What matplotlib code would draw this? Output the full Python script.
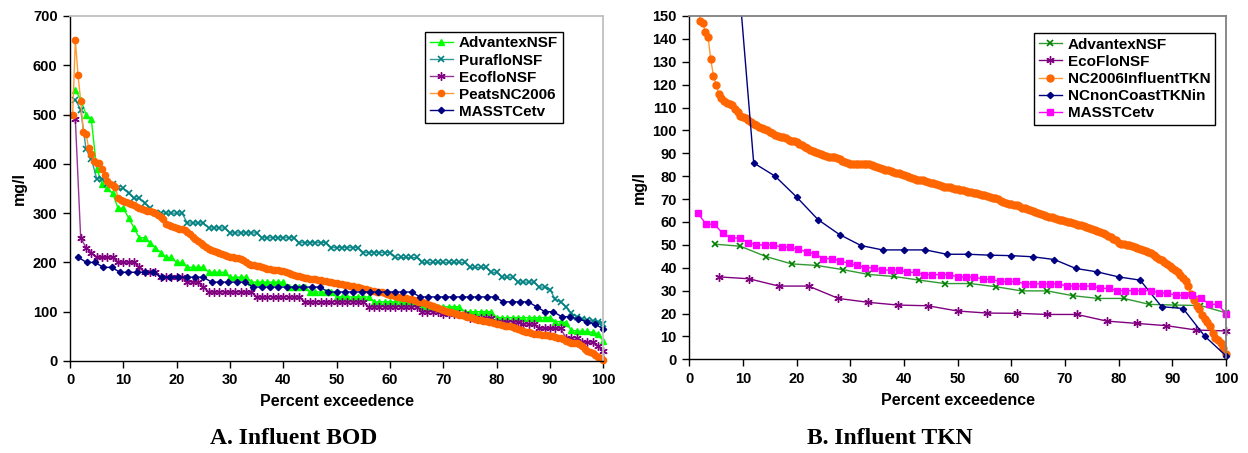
import matplotlib
matplotlib.use('Agg')
import matplotlib.pyplot as plt
import matplotlib.patches as mpatches
import numpy as np

plt.rcParams['font.family'] = ['Liberation Sans', 'DejaVu Sans']
plt.rcParams['font.weight'] = 'bold'

# ---- A. Influent BOD (mg/l vs percent exceedence) ----
advantex_bod = [550, 530, 500, 490, 390, 360, 350, 340, 310, 310,
                290, 270, 250, 250, 240, 230, 220, 210, 210, 200,
                200, 190, 190, 190, 190, 180, 180, 180, 180, 170,
                170, 170, 170, 160, 160, 160, 160, 160, 160, 160,
                150, 150, 150, 150, 140, 140, 140, 140, 140, 130,
                130, 130, 130, 130, 130, 130, 120, 120, 120, 120,
                120, 120, 120, 120, 120, 110, 110, 110, 110, 110,
                110, 110, 110, 100, 100, 100, 100, 100, 100, 88,
                88, 88, 88, 88, 88, 88, 88, 88, 88, 88,
                80, 80, 78, 62, 61, 60, 60, 58, 55, 40]

puraflo_bod = [530, 510, 430, 410, 370, 370, 360, 360, 350, 350,
               340, 330, 330, 320, 310, 300, 300, 300, 300, 300,
               300, 280, 280, 280, 280, 270, 270, 270, 270, 260,
               260, 260, 260, 260, 260, 250, 250, 250, 250, 250,
               250, 250, 240, 240, 240, 240, 240, 240, 230, 230,
               230, 230, 230, 230, 220, 220, 220, 220, 220, 220,
               210, 210, 210, 210, 210, 200, 200, 200, 200, 200,
               200, 200, 200, 200, 190, 190, 190, 190, 180, 180,
               170, 170, 170, 160, 160, 160, 160, 150, 150, 145,
               125, 120, 110, 97, 90, 85, 83, 82, 80, 75]

ecoflo_bod = [490, 250, 230, 220, 210, 210, 210, 210, 200, 200,
              200, 200, 190, 180, 180, 180, 170, 170, 170, 170,
              170, 160, 160, 160, 150, 140, 140, 140, 140, 140,
              140, 140, 140, 140, 130, 130, 130, 130, 130, 130,
              130, 130, 130, 120, 120, 120, 120, 120, 120, 120,
              120, 120, 120, 120, 120, 110, 110, 110, 110, 110,
              110, 110, 110, 110, 110, 100, 100, 100, 100, 95,
              95, 95, 95, 95, 88, 88, 88, 88, 88, 80,
              80, 80, 80, 80, 75, 75, 75, 66, 66, 66,
              66, 66, 47, 47, 47, 38, 38, 38, 30, 20]

peats_bod = [500, 651, 580, 528, 465, 461, 432, 420, 406, 401,
             401, 390, 378, 365, 360, 357, 354, 331, 327, 324,
             322, 320, 318, 316, 313, 311, 309, 307, 305, 304,
             302, 300, 297, 293, 288, 278, 275, 273, 272, 270,
             268, 267, 265, 262, 257, 252, 248, 243, 239, 236,
             232, 228, 225, 223, 221, 219, 217, 215, 213, 212,
             210, 209, 208, 206, 204, 200, 197, 195, 194, 193,
             192, 190, 189, 187, 186, 185, 185, 184, 183, 182,
             180, 179, 177, 175, 173, 172, 170, 169, 168, 167,
             166, 166, 165, 164, 163, 162, 161, 160, 159, 158,
             157, 156, 155, 154, 153, 152, 151, 150, 148, 147,
             146, 145, 143, 142, 141, 140, 139, 137, 136, 134,
             133, 132, 130, 129, 128, 127, 126, 125, 124, 122,
             120, 119, 118, 116, 114, 112, 110, 108, 106, 104,
             102, 100, 99, 97, 96, 94, 93, 91, 90, 89,
             87, 86, 84, 83, 82, 81, 80, 79, 77, 76,
             75, 74, 72, 71, 70, 68, 66, 64, 62, 60,
             59, 58, 56, 55, 54, 54, 53, 53, 52, 51,
             50, 49, 47, 46, 45, 40, 38, 37, 36, 36,
             35, 30, 24, 20, 18, 16, 12, 9, 6, 2]

masst_bod = [210, 200, 200, 190, 190, 180, 180, 180, 180, 180,
             170, 170, 170, 170, 170, 170, 160, 160, 160, 160,
             160, 150, 150, 150, 150, 150, 150, 150, 150, 150,
             140, 140, 140, 140, 140, 140, 140, 140, 140, 140,
             140, 130, 130, 130, 130, 130, 130, 130, 130, 130,
             130, 120, 120, 120, 120, 110, 100, 100, 90, 90,
             85, 80, 75, 65]

# ---- B. Influent TKN ----
advantex_tkn = [50.3, 49.4, 44.9, 41.7, 41.0, 39.2, 37.1, 36.2, 34.6, 33.1,
                33.1, 31.7, 29.9, 29.9, 27.8, 26.6, 26.6, 24.0, 23.7, 23.5, 20.3]

ecoflo_tkn = [36.0, 35.2, 32.0, 32.0, 26.6, 24.9, 23.7, 23.4, 21.1, 20.2,
              20.1, 19.6, 19.6, 16.7, 15.7, 14.7, 12.8, 12.4]

nc2006_tkn = [170, 148, 147, 143, 141, 131, 124, 120, 116, 114,
              113, 112, 111.6, 111, 109.5, 108, 106.5, 106, 105.3, 104.5,
              103.8, 103, 102.2, 101.6, 101, 100.5, 100, 99.3, 98.7, 98.1,
              97.6, 97.3, 97.1, 96.5, 96, 95.5, 95.2, 94.9, 94.2, 93.5,
              92.8, 92.2, 91.6, 91.1, 90.6, 90.1, 89.6, 89.2, 88.8, 88.5,
              88.3, 88.2, 88.1, 87.4, 86.8, 86.3, 85.9, 85.5, 85.4, 85.3,
              85.3, 85.2, 85.2, 85.2, 85.2, 84.8, 84.3, 84, 83.6, 83.3,
              82.9, 82.5, 82.2, 81.8, 81.5, 81.2, 80.9, 80.4, 79.9, 79.5,
              79.1, 78.7, 78.5, 78.3, 78.2, 77.9, 77.5, 77.2, 77, 76.6,
              76.2, 75.8, 75.5, 75.4, 75.3, 74.8, 74.5, 74.2, 74, 73.8,
              73.5, 73.2, 72.9, 72.6, 72.5, 72.4, 72, 71.7, 71.3, 71,
              70.6, 70.3, 70, 69.3, 68.8, 68.3, 68, 67.8, 67.5, 67.3,
              66.8, 66.3, 65.9, 65.5, 65.1, 64.7, 64.3, 63.9, 63.5, 63.1,
              62.7, 62.3, 62, 61.6, 61.3, 61, 60.8, 60.6, 60.2, 59.9,
              59.6, 59.3, 58.9, 58.5, 58.1, 57.7, 57.2, 56.9, 56.5, 56.1,
              55.7, 55.3, 54.7, 54, 53.3, 52.6, 52, 51, 50.4, 50.2,
              50, 49.9, 49.5, 49.1, 48.7, 48.2, 47.7, 47.2, 46.8, 46.3,
              45.5, 44.8, 44, 43.2, 42.4, 41.5, 40.6, 39.7, 38.9, 38,
              36.8, 35.5, 34, 32, 28.5, 26, 23.5, 22, 19.5, 17.5,
              16.4, 14.5, 11.5, 9.5, 8.3, 7.2, 5, 2.2]

ncnoncoast_tkn = [260, 200, 85.8, 80, 70.9, 61, 54.5, 49.7, 47.8, 47.8,
                  47.8, 45.9, 45.9, 45.5, 45.3, 44.8, 43.6, 39.7, 38.2, 36,
                  34.6, 23, 22.2, 10.2, 1.5]

masst_tkn = [64, 59, 59, 55, 53, 53, 51, 50, 50, 50,
             49, 49, 48, 47, 46, 44, 44, 43, 42, 41,
             40, 40, 39, 39, 39, 38, 38, 37, 37, 37,
             37, 36, 36, 36, 35, 35, 34, 34, 34, 33,
             33, 33, 33, 33, 32, 32, 32, 32, 31, 31,
             30, 30, 30, 30, 30, 29, 29, 28, 28, 28,
             27, 24, 24, 20]


def exceed(vals, start=None):
    # plotting position of ranked values: i/n*100 unless a first position is given
    n = len(vals)
    if start is None:
        return np.arange(1, n + 1) * 100.0 / n
    return np.linspace(start, 100, n)


def style_axes(ax, ymax, ystep, frame_color):
    ax.set_xlim(0, 100)
    ax.set_ylim(0, ymax)
    ax.set_xticks(np.arange(0, 101, 10))
    ax.set_yticks(np.arange(0, ymax + 1, ystep))
    ax.spines['top'].set_color(frame_color)
    ax.spines['right'].set_color(frame_color)
    for s in ['top', 'right']:
        ax.spines[s].set_linewidth(1.3)
    for s in ['left', 'bottom']:
        ax.spines[s].set_linewidth(1.0)
    ax.tick_params(direction='out', length=5, width=1, labelsize=10.5, pad=4)
    for lab in ax.get_xticklabels() + ax.get_yticklabels():
        lab.set_fontweight('bold')
    ax.set_xlabel('Percent exceedence', fontsize=11.5, fontweight='bold', labelpad=5)
    ax.set_ylabel('mg/l', fontsize=11.5, fontweight='bold', labelpad=4)


def add_legend(ax, anchor):
    ax.legend(loc='upper right', bbox_to_anchor=anchor, borderaxespad=0,
              prop={'weight': 'bold', 'size': 11}, frameon=True, fancybox=False,
              edgecolor='black', framealpha=1, handlelength=1.5, handletextpad=0.4,
              labelspacing=0.2, borderpad=0.3)


fig = plt.figure(figsize=(12.48, 4.53), dpi=100)

ax1 = fig.add_axes([0.0561, 0.2031, 0.4273, 0.7616])
ax1.plot(exceed(advantex_bod), advantex_bod, color='#00FF00', lw=1, marker='^',
         ms=5, mec='#00FF00', label='AdvantexNSF', clip_on=False)
ax1.plot(exceed(puraflo_bod), puraflo_bod, color='#339999', lw=1, marker='x',
         ms=4.5, mew=1.2, mec='#008080', label='PurafloNSF', clip_on=False)
ax1.plot(exceed(ecoflo_bod), ecoflo_bod, color='#993399', lw=1, marker=(6, 2, 0),
         ms=6, mew=1.0, mec='#800080', label='EcofloNSF', clip_on=False)
ax1.plot(exceed(peats_bod, 0.5), peats_bod, color='#FF9933', lw=1, marker='o',
         ms=4.5, mec='#FF6600', mfc='#FF6600', label='PeatsNC2006', clip_on=False)
ax1.plot(exceed(masst_bod), masst_bod, color='#000080', lw=1, marker='D',
         ms=3.2, mec='#000080', label='MASSTCetv', clip_on=False)
style_axes(ax1, 700, 100, '#C0C0C0')
add_legend(ax1, (0.924, 0.954))

ax2 = fig.add_axes([0.5523, 0.2068, 0.4301, 0.7579])
ax2.plot(exceed(advantex_tkn), advantex_tkn, color='#339933', lw=1, marker='x',
         ms=4.5, mew=1.2, mec='#008000', label='AdvantexNSF', clip_on=False)
ax2.plot(exceed(ecoflo_tkn), ecoflo_tkn, color='#800080', lw=1, marker=(6, 2, 0),
         ms=6, mew=1.0, mec='#800080', label='EcoFloNSF', clip_on=False)
l_nc = ax2.plot(exceed(nc2006_tkn, 1.5), nc2006_tkn, color='#FF9933', lw=1, marker='o',
                ms=5, mec='#FF6600', mfc='#FF6600', label='NC2006InfluentTKN')[0]
l_nn = ax2.plot(exceed(ncnoncoast_tkn), ncnoncoast_tkn, color='#000080', lw=1, marker='D',
                ms=3.2, mec='#000080', label='NCnonCoastTKNin')[0]
ax2.plot(exceed(masst_tkn), masst_tkn, color='#FF00FF', lw=1, marker='s',
         ms=4.5, mec='#FF00FF', label='MASSTCetv', clip_on=False)
# clip at the top of the axes only, so end markers stay whole
clip = mpatches.Rectangle((-0.03, -0.05), 1.06, 1.05, transform=ax2.transAxes,
                          fill=False, visible=False)
ax2.add_patch(clip)
for ln in [l_nc, l_nn]:
    ln.set_clip_path(clip)
style_axes(ax2, 150, 10, '#808080')
add_legend(ax2, (0.9795, 0.950))

fig.text(0.235, 0.02, 'A. Influent BOD', family=['Liberation Serif'], fontsize=17,
         fontweight='bold', ha='center')
fig.text(0.713, 0.02, 'B. Influent TKN', family=['Liberation Serif'], fontsize=17,
         fontweight='bold', ha='center')

fig.savefig('out.png', dpi=100)
